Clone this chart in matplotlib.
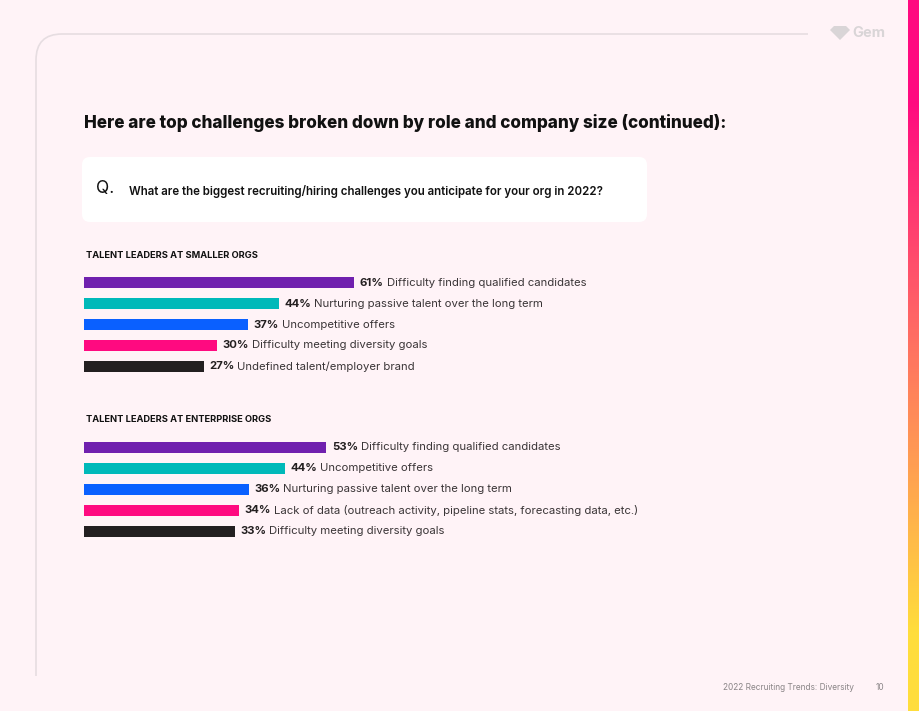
import matplotlib.pyplot as plt
import numpy as np
from matplotlib.patches import FancyBboxPatch, Polygon
from matplotlib.path import Path
from matplotlib.patches import PathPatch
from matplotlib.colors import LinearSegmentedColormap

plt.rcParams['font.family'] = ['Inter', 'DejaVu Sans']

# data
small_pcts = [61, 44, 37, 30, 27]
small_labels = ["Difficulty finding qualified candidates",
                "Nurturing passive talent over the long term",
                "Uncompetitive offers",
                "Difficulty meeting diversity goals",
                "Undefined talent/employer brand"]
ent_pcts = [53, 44, 36, 34, 33]
ent_labels = ["Difficulty finding qualified candidates",
              "Uncompetitive offers",
              "Nurturing passive talent over the long term",
              "Lack of data (outreach activity, pipeline stats, forecasting data, etc.)",
              "Difficulty meeting diversity goals"]
bar_colors = ["#7020AE", "#00B9B9", "#0A60FF", "#FF0A80", "#231F20"]

W, H = 920, 711
BG = "#FFF3F7"
fig = plt.figure(figsize=(W / 100, H / 100), dpi=100, facecolor=BG)

# overlay axes in pixel coordinates
bg = fig.add_axes([0, 0, 1, 1])
bg.axis("off")

# right gradient strip
cmap = LinearSegmentedColormap.from_list("strip", [(0, "#FF0A80"), (0.14, "#FF0A80"),
                                                   (0.5, "#FF7560"), (0.89, "#FFDD3C"),
                                                   (1, "#FFDD3C")])
grad = np.linspace(0, 1, 300).reshape(-1, 1)
bg.imshow(grad, cmap=cmap, aspect="auto", extent=[908, 920, H, 0], zorder=1)
bg.set_xlim(0, W)
bg.set_ylim(H, 0)

# card outline
r = 26
verts = [(36, 676), (36, 34 + r), (36, 34), (36 + r, 34), (808, 34)]
codes = [Path.MOVETO, Path.LINETO, Path.CURVE3, Path.CURVE3, Path.LINETO]
bg.add_patch(PathPatch(Path(verts, codes), fill=False, edgecolor="#E6DDE1", lw=1.2, zorder=2))

# Gem logo
bg.add_patch(Polygon([(830, 30), (834, 26), (846, 26), (850, 30), (840, 40)],
                     closed=True, facecolor="#D9D5D7", edgecolor="none", zorder=2))
bg.text(852, 33, "Gem", fontsize=10.5, fontweight="bold", color="#D9D5D7", va="center", ha="left")

# title
bg.text(84, 123, "Here are top challenges broken down by role and company size (continued):",
        fontsize=12.3, fontweight="heavy", color="#111111", va="center", ha="left")

# question box
bg.add_patch(FancyBboxPatch((88, 163), 553, 53, boxstyle="round,pad=6,rounding_size=8",
                            facecolor="white", edgecolor="none", zorder=2))
bg.text(96, 189, "Q.", fontsize=12.5, color="#111111", va="center", ha="left", zorder=3)
bg.text(129, 192, "What are the biggest recruiting/hiring challenges you anticipate for your org in 2022?",
        fontsize=8.3, fontweight="semibold", color="#111111", va="center", ha="left", zorder=3)

# section headings
bg.text(86, 256, "TALENT LEADERS AT SMALLER ORGS", fontsize=6.7, fontweight="bold",
        color="#111111", va="center", ha="left")
bg.text(86, 420, "TALENT LEADERS AT ENTERPRISE ORGS", fontsize=6.7, fontweight="bold",
        color="#111111", va="center", ha="left")

# footer
bg.text(854, 688, "2022 Recruiting Trends: Diversity", fontsize=6, color="#8A8587",
        va="center", ha="right")
bg.text(876, 688, "10", fontsize=6, color="#8A8587", va="center", ha="left")


def bar_block(top, spacing, px_per_pct, pcts, labels):
    n = len(pcts)
    h = spacing * n
    ax = fig.add_axes([84 / W, 1 - (top + h) / H, 100 * px_per_pct / W, h / H])
    ax.set_xlim(0, 100)
    ax.set_ylim(n - 0.5, -0.5)
    ax.axis("off")
    y = np.arange(n)
    ax.barh(y, pcts, height=11 / spacing, color=bar_colors, edgecolor="none")
    for yi, p, lab in zip(y, pcts, labels):
        t = ax.annotate(f"{p}%", xy=(p, yi), xytext=(4, 0), textcoords="offset points",
                        fontsize=8.2, fontweight="bold", color="#231F20", va="center", ha="left")
        ax.annotate(lab, xy=(1, 0.5), xycoords=t, xytext=(2.2, 0), textcoords="offset points",
                    fontsize=8.15, color="#3A3537", va="center", ha="left")
    return ax


bar_block(272.5, 20.85, 4.43, small_pcts, small_labels)
bar_block(436.5, 21.0, 4.57, ent_pcts, ent_labels)

fig.savefig("out.png", dpi=100, facecolor=BG)
